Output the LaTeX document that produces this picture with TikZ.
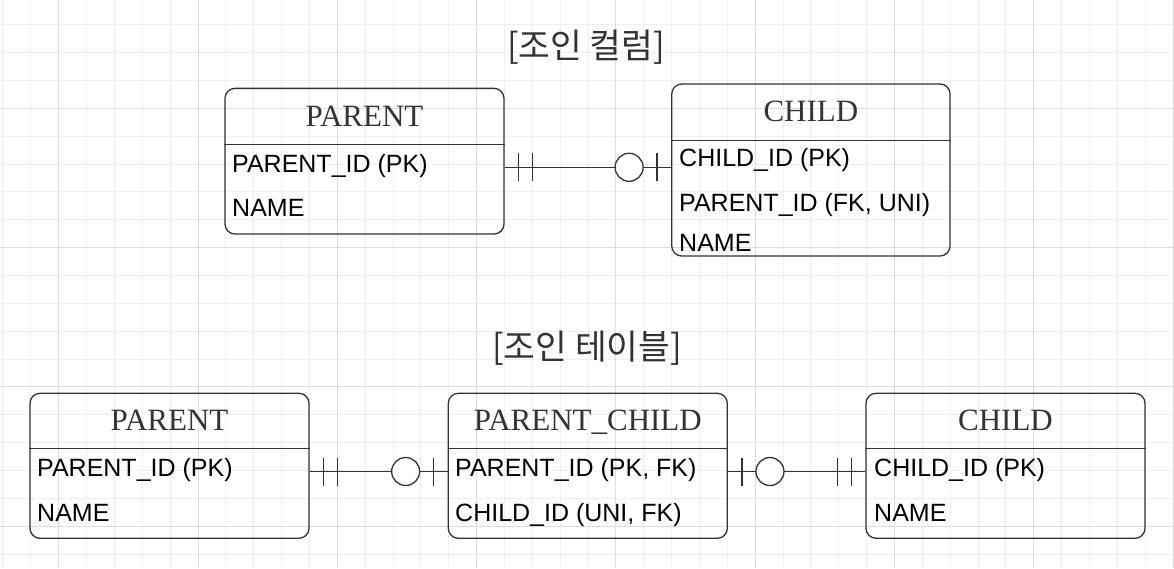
\documentclass[tikz,border=0pt]{standalone}
\usepackage{fontspec}
\setmainfont{Liberation Serif}
\newfontfamily\sansf{Liberation Sans}
\newfontfamily\krf{Noto Sans CJK KR}
\usetikzlibrary{calc}
\definecolor{ink}{HTML}{333333}
\definecolor{gridminor}{HTML}{EFEFEF}
\definecolor{gridmajor}{HTML}{DDDDDD}
\tikzset{
  tbl/.style={draw=ink, line width=1.3pt, rounded corners=10pt, inner sep=0pt, fill=none},
  hdr/.style={font=\fontsize{31}{31}\selectfont, text=ink, anchor=base, inner sep=0pt},
  rowtxt/.style={font=\sansf\fontsize{25}{25}\selectfont, text=black, anchor=base west, inner sep=0pt},
  ttl/.style={font=\krf\fontsize{34.5}{34.5}\selectfont, text=ink, anchor=base, inner sep=0pt},
  conn/.style={draw=ink, line width=1.3pt},
  divider/.style={draw=ink, line width=1.3pt}
}
\newcommand\markone[2]{%
  \draw[conn] ($(#1)+(#2*14,-14)$) -- ($(#1)+(#2*14,14)$);
  \draw[conn] ($(#1)+(#2*28,-14)$) -- ($(#1)+(#2*28,14)$);}
\newcommand\markzero[2]{%
  \draw[conn] ($(#1)+(#2*14,-14)$) -- ($(#1)+(#2*14,14)$);
  \draw[conn, fill=white] ($(#1)+(#2*42,0)$) circle[radius=14pt];}
\begin{document}
\begin{tikzpicture}[x=1pt,y=-1pt]
\useasboundingbox (0,0) rectangle (1174,568);
\fill[white] (0,0) rectangle (1174,568);
% grid
\begin{scope}
\clip (0,0) rectangle (1174,568);
\foreach \i in {0,...,42} {
  \draw[gridminor, line width=1pt] ({2.98+\i*27.86},0) -- ({2.98+\i*27.86},568);
}
\foreach \j in {0,...,21} {
  \draw[gridminor, line width=1pt] (0,{-3.14+\j*27.86}) -- (1174,{-3.14+\j*27.86});
}
\foreach \k in {0,...,8} {
  \draw[gridmajor, line width=1pt] ({58.7+\k*139.3},0) -- ({58.7+\k*139.3},568);
}
\foreach \k in {0,...,3} {
  \draw[gridmajor, line width=1pt] (0,{108.3+\k*139.3}) -- (1174,{108.3+\k*139.3});
}
\end{scope}

% titles
\node[ttl] (t1) at (586,58) {[조인 컬럼]};
\node[ttl] (t2) at (587,359) {[조인 테이블]};

% ---------- top: join column ----------
\node[tbl, minimum width=279pt, minimum height=145.7pt] (tp) at (364.5,161.2) {};
\draw[divider] (tp.west |- 0,144.3) -- (tp.east |- 0,144.3);
\node[hdr] (tph) at (364.5,126.7) {PARENT};
\node[rowtxt] (tpr1) at (232,172.3) {PARENT\_ID (PK)};
\node[rowtxt] (tpr2) at (232,216.7) {NAME};

\node[tbl, minimum width=278.3pt, minimum height=172pt] (tc) at (810.9,170) {};
\draw[divider] (tc.west |- 0,140.3) -- (tc.east |- 0,140.3);
\node[hdr] (tch) at (810.9,121) {CHILD};
\node[rowtxt] (tcr1) at (679,166) {CHILD\_ID (PK)};
\node[rowtxt] (tcr2) at (679,211.7) {PARENT\_ID (FK, UNI)};
\node[rowtxt] (tcr3) at (679,251) {NAME};

\coordinate (c1s) at (tp.east |- 0,167.3);
\coordinate (c1t) at (tc.west |- 0,167.3);
\draw[conn] (c1s) -- (c1t);
\markone{c1s}{1}
\markzero{c1t}{-1}

% ---------- bottom: join table ----------
\node[tbl, minimum width=279pt, minimum height=145pt] (bp) at (169.5,465.8) {};
\draw[divider] (bp.west |- 0,448.3) -- (bp.east |- 0,448.3);
\node[hdr] (bph) at (169.5,430) {PARENT};
\node[rowtxt] (bpr1) at (37,476.7) {PARENT\_ID (PK)};
\node[rowtxt] (bpr2) at (37,521.7) {NAME};

\node[tbl, minimum width=279pt, minimum height=145pt] (pc) at (587.8,465.8) {};
\draw[divider] (pc.west |- 0,448.3) -- (pc.east |- 0,448.3);
\node[hdr] (pch) at (587.8,430) {PARENT\_CHILD};
\node[rowtxt] (pcr1) at (455,476.7) {PARENT\_ID (PK, FK)};
\node[rowtxt] (pcr2) at (455,521.7) {CHILD\_ID (UNI, FK)};

\node[tbl, minimum width=279pt, minimum height=145pt] (bc) at (1005.5,465.8) {};
\draw[divider] (bc.west |- 0,448.3) -- (bc.east |- 0,448.3);
\node[hdr] (bch) at (1005.5,430) {CHILD};
\node[rowtxt] (bcr1) at (874,476.7) {CHILD\_ID (PK)};
\node[rowtxt] (bcr2) at (874,521.7) {NAME};

\coordinate (c2s) at (bp.east |- 0,471.5);
\coordinate (c2t) at (pc.west |- 0,471.5);
\draw[conn] (c2s) -- (c2t);
\markone{c2s}{1}
\markzero{c2t}{-1}

\coordinate (c3s) at (pc.east |- 0,471.5);
\coordinate (c3t) at (bc.west |- 0,471.5);
\draw[conn] (c3s) -- (c3t);
\markzero{c3s}{1}
\markone{c3t}{-1}
\end{tikzpicture}
\end{document}
